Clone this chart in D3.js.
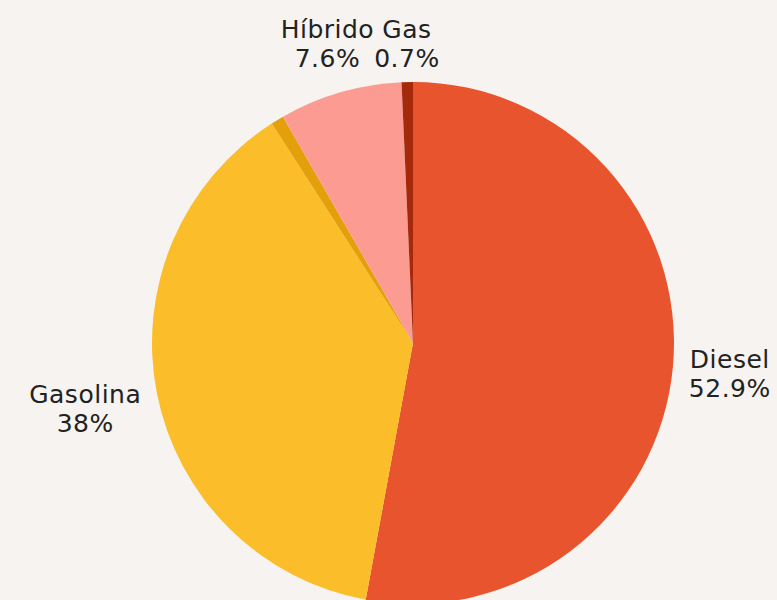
<!DOCTYPE html>
<html>
<head>
<meta charset="utf-8">
<script src="https://cdn.jsdelivr.net/npm/d3@7"></script>
<style>
  html, body { margin: 0; padding: 0; background: #f7f3f0; }
  svg { display: block; }
  .lbl { font-family: "DejaVu Sans", "Open Sans", sans-serif; font-size: 25px; letter-spacing: 0.5px; fill: #222; }
</style>
</head>
<body>
<div id="chart"></div>
<script>
// Data
var categories = ["Diesel", "Gasolina", "", "Híbrido", "Gas"];
var values = [52.9, 38, 0.8, 7.6, 0.7];
var labels = ["52.9%", "38%", "", "7.6%", "0.7%"];
var colors = ["#e8542d", "#fbbd29", "#e3a00b", "#fc9b92", "#a52a0c"];

var svgWidth = 777, svgHeight = 600;
var cx = 413, cy = 343, radius = 261, gap = 16;

var svg = d3.select("#chart").append("svg")
  .attr("width", svgWidth)
  .attr("height", svgHeight);

svg.append("rect").attr("width", svgWidth).attr("height", svgHeight).attr("fill", "#f7f3f0");

var g = svg.append("g").attr("transform", "translate(" + cx + "," + cy + ")");

var data = categories.map(function(c, i){ return {name: c, value: values[i], label: labels[i], color: colors[i]}; });

var pie = d3.pie().sort(null).value(d => d.value);
var arc = d3.arc().innerRadius(0).outerRadius(radius);
var arcs = pie(data);

g.selectAll("path.slice").data(arcs).enter().append("path")
  .attr("class", "slice")
  .attr("d", arc)
  .attr("fill", d => d.data.color);

// Labels placed just outside the pie
var lineH = 29, boxH = 60, firstBase = 32;
var placed = [];
arcs.forEach(function(d){
  if(!d.data.name) return;
  var a = (d.startAngle + d.endAngle) / 2;
  var s = Math.sin(a), c = Math.cos(a);
  var px = (radius + gap) * s, py = -(radius + gap) * c;

  var t = g.append("text").attr("class", "lbl").attr("text-anchor", "middle");
  t.append("tspan").attr("x", 0).attr("dy", 0).text(d.data.name);
  t.append("tspan").attr("x", 0).attr("dy", lineH).text(d.data.label);
  var w = t.node().getBBox().width;

  var left;
  if(s > 0.3) left = px;
  else if(s < -0.3) left = px - w;
  else left = px - w / 2;
  var top;
  if(c > 0.3) top = -(radius + gap) - boxH;   // top labels share one row
  else if(c < -0.3) top = py;
  else top = py - boxH / 2 + (s < 0 ? 4 : -2);

  placed.push({t: t, left: left, top: top, w: w, h: boxH});
});

// push overlapping labels apart horizontally (later one stays)
for(var i = placed.length - 1; i > 0; i--){
  var b = placed[i], p = placed[i - 1];
  var vOverlap = p.top < b.top + b.h && b.top < p.top + p.h;
  if(vOverlap && p.left + p.w > b.left && p.left < b.left + b.w){
    p.left = b.left - p.w;
  }
}

placed.forEach(function(p){
  p.t.attr("transform", "translate(" + (p.left + p.w / 2) + "," + (p.top + firstBase) + ")");
});
</script>
</body>
</html>
